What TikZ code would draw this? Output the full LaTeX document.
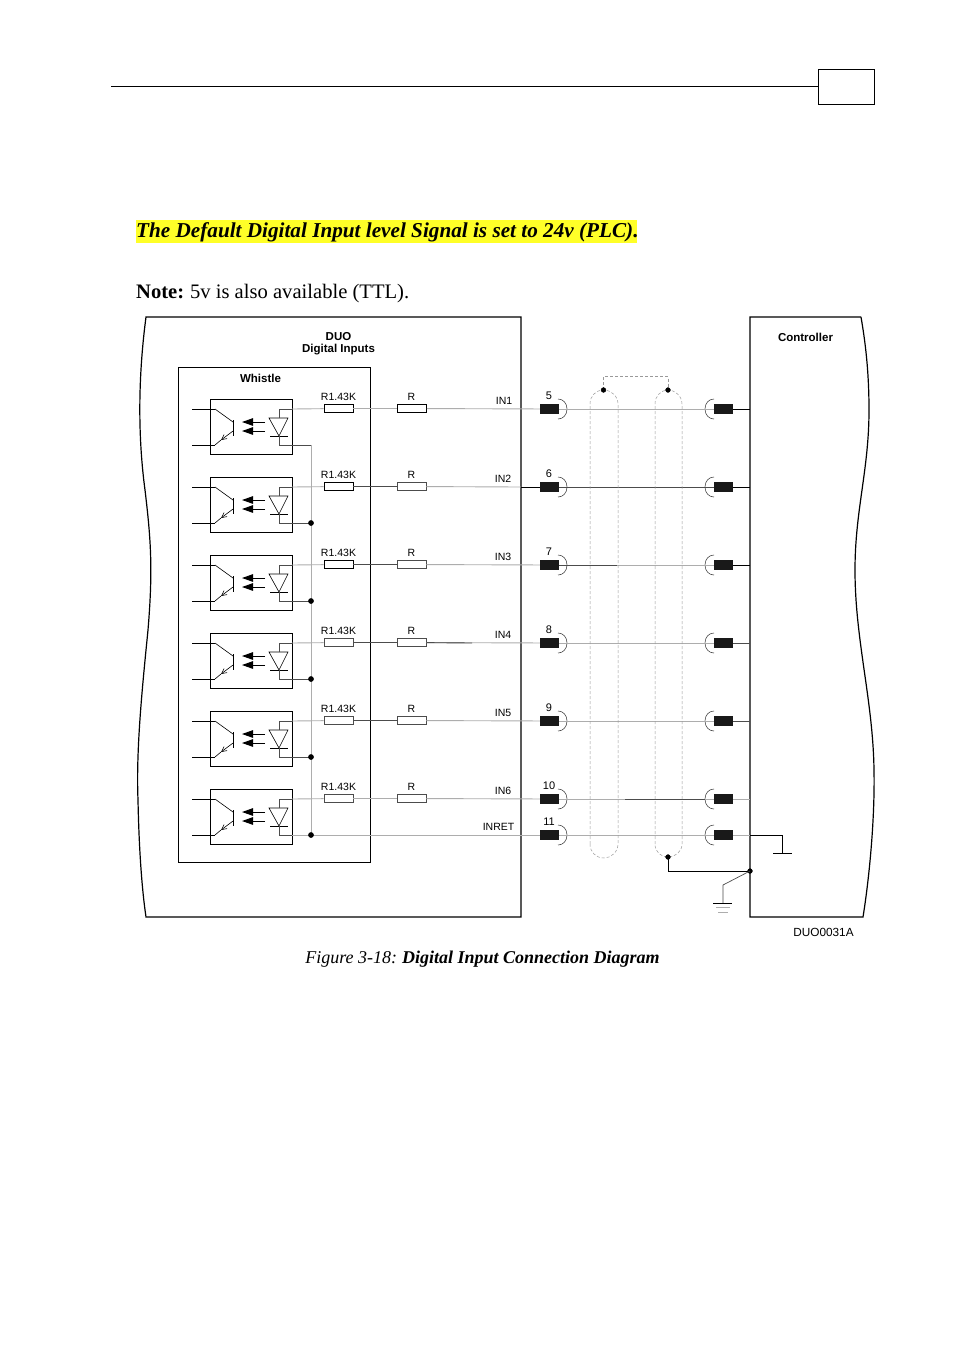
\documentclass[tikz,border=0pt]{standalone}
\usepackage{fontspec}
\setmainfont{Liberation Serif}
\setsansfont{Liberation Sans}
\usetikzlibrary{arrows.meta}
\definecolor{wiregray}{gray}{0.68}
\definecolor{wiredark}{gray}{0.3}
\definecolor{shieldgray}{gray}{0.6}
\definecolor{markyellow}{RGB}{255,255,40}
\tikzset{
  tag/.style={font=\sffamily\fontsize{10.5}{12}\selectfont,inner sep=0pt},
  numtag/.style={font=\sffamily\fontsize{11}{12}\selectfont,inner sep=0pt},
  headtag/.style={font=\sffamily\bfseries\fontsize{11.5}{13}\selectfont,inner sep=0pt},
  resdark/.style={draw=black,line width=0.9pt,fill=white,minimum width=29pt,minimum height=8pt,inner sep=0pt},
  reslight/.style={draw=wiredark,line width=0.7pt,fill=white,minimum width=29pt,minimum height=8pt,inner sep=0pt},
  pinbox/.style={fill=black!90,minimum width=19pt,minimum height=10pt,inner sep=0pt},
  wire/.style={line width=0.9pt,wiregray},
  darkwire/.style={line width=0.9pt,wiredark},
  blackwire/.style={line width=0.9pt,black},
  shield/.style={line width=0.5pt,shieldgray,dash pattern=on 3pt off 2pt},
  opto/.pic={
    \draw [line width=0.9pt] (0,-10) rectangle (82,45);
    \draw [line width=0.9pt] (-18,0)-- (5,0);
    \draw [line width=0.9pt] (-18,36)-- (5,36);
    \draw [line width=0.6pt] (5,0)-- (23,13);
    \draw [line width=0.6pt] (23,11)-- (23,27);
    \draw [line width=0.6pt,-{Straight Barb[length=5pt,width=5pt]}] (23,22)-- (11,31);
    \draw [line width=0.6pt] (11,31)-- (5,36);
    \draw [line width=1pt,-{Stealth[length=11pt,width=7.5pt,inset=0pt]}] (55,13)-- (32,13);
    \draw [line width=1pt,-{Stealth[length=11pt,width=7.5pt,inset=0pt]}] (55,22)-- (32,22);
    \draw [line width=0.6pt] (59,9)-- (78,9)-- (69,27)-- cycle;
    \draw [line width=0.7pt] (60,27)-- (78,27);
    \draw [line width=0.8pt,wiredark] (69,9)-- (69,0)-- (82,0);
    \draw [line width=0.8pt,wiredark] (69,27)-- (69,36)-- (82,36);
    \coordinate (-top) at (82,0);
    \coordinate (-bot) at (82,36);
  },
  jackleft/.pic={
    \draw [line width=0.6pt,wiredark] (-1,-10) .. controls (4,-10) and (8,-6) .. (8,0) .. controls (8,6) and (4,10) .. (-1,10);
  },
  jackright/.pic={
    \draw [line width=0.6pt,wiredark] (1,-10) .. controls (-4,-10) and (-8,-6) .. (-8,0) .. controls (-8,6) and (-4,10) .. (1,10);
  }
}
\begin{document}
\begin{tikzpicture}[x=1pt,y=-1pt]
\useasboundingbox (0,0) rectangle (954,1350);
\fill [white] (0,0) rectangle (954,1350);
% page head
\draw [line width=0.9pt] (111,86)-- (818,86);
\draw [line width=0.9pt] (818,69) rectangle (874.5,104.5);
\fill [markyellow] (136,220) rectangle (637,243);
\node [anchor=west,inner sep=0pt,font=\fontsize{21.2}{24}\selectfont\bfseries\itshape] (signal) at (136,232) {The Default Digital Input level Signal is set to 24v (PLC).};
\node [anchor=west,inner sep=0pt,font=\fontsize{20.6}{24}\selectfont] (note) at (136,293.5) {\textbf{Note:}\hspace{-1pt} 5v is also available (TTL).};
\node [inner sep=0pt,font=\fontsize{18}{20}\selectfont] (caption) at (482.5,959) {\textit{Figure 3-18:}\hspace{-1pt} \textbf{\textit{Digital Input Connection Diagram}}};
% outlines
\draw [line width=1.2pt] (521,317)-- (146,317) .. controls (139,370) and (137,430) .. (145,490) .. controls (151,540) and (153,570) .. (148,630) .. controls (142,690) and (136,750) .. (138,800) .. controls (139,850) and (142,890) .. (146,917)-- (521,917)-- cycle;
\draw [line width=1.2pt] (861,317)-- (750,317)-- (750,917)-- (863,917) .. controls (869,880) and (875,820) .. (874,770) .. controls (873,700) and (855,640) .. (855,570) .. controls (855,510) and (869,470) .. (869,410) .. controls (869,370) and (865,340) .. (861,317);
\draw [line width=0.9pt] (178,367) rectangle (370,862);
\node [headtag] (duo) at (338.5,336.5) {DUO};
\node [headtag] (duoin) at (338.5,349.5) {Digital Inputs};
\node [headtag] (whistle) at (260.5,378) {Whistle};
\node [headtag] (ctrl) at (805.5,337) {Controller};
\node [tag,font=\sffamily\fontsize{11.8}{13}\selectfont] (drawno) at (823.5,932) {DUO0031A};
% optos
\pic (o1) at (210,409) {opto};
\pic (o2) at (210,487) {opto};
\pic (o3) at (210,565) {opto};
\pic (o4) at (210,643) {opto};
\pic (o5) at (210,721) {opto};
\pic (o6) at (210,799) {opto};
% resistors
\node [resdark] (ra1) at (338.5,408.5) {};
\node [resdark] (ra2) at (338.5,486.5) {};
\node [resdark] (ra3) at (338.5,564.5) {};
\node [reslight] (ra4) at (338.5,642.5) {};
\node [reslight] (ra5) at (338.5,720.5) {};
\node [reslight] (ra6) at (338.5,798.5) {};
\node [resdark] (rb1) at (412,408.5) {};
\node [reslight] (rb2) at (411.5,486.5) {};
\node [reslight] (rb3) at (411.5,564.5) {};
\node [reslight] (rb4) at (411.5,642.5) {};
\node [reslight] (rb5) at (411.5,720.5) {};
\node [reslight] (rb6) at (411.5,798.5) {};
\node [tag] (tra1) at (338.5,396.5) {R1.43K};
\node [tag] (tra2) at (338.5,474.5) {R1.43K};
\node [tag] (tra3) at (338.5,552.5) {R1.43K};
\node [tag] (tra4) at (338.5,630.5) {R1.43K};
\node [tag] (tra5) at (338.5,708.5) {R1.43K};
\node [tag] (tra6) at (338.5,786.5) {R1.43K};
\node [tag] (trb1) at (411.5,396.5) {R};
\node [tag] (trb2) at (411.5,474.5) {R};
\node [tag] (trb3) at (411.5,552.5) {R};
\node [tag] (trb4) at (411.5,630.5) {R};
\node [tag] (trb5) at (411.5,708.5) {R};
\node [tag] (trb6) at (411.5,786.5) {R};
\node [tag] (in1) at (504,401) {IN1};
\node [tag] (in2) at (503,479) {IN2};
\node [tag] (in3) at (503,557) {IN3};
\node [tag] (in4) at (503,635) {IN4};
\node [tag] (in5) at (503,713) {IN5};
\node [tag] (in6) at (503,791) {IN6};
\node [tag] (inret) at (498.5,827) {INRET};
% pins, cable side
\node [pinbox] (pa1) at (549.5,409) {};
\node [pinbox] (pa2) at (549.5,487) {};
\node [pinbox] (pa3) at (549.5,565) {};
\node [pinbox] (pa4) at (549.5,643) {};
\node [pinbox] (pa5) at (549.5,721) {};
\node [pinbox] (pa6) at (549.5,799) {};
\node [pinbox] (pa7) at (549.5,835) {};
\node [pinbox] (pb1) at (723.5,409) {};
\node [pinbox] (pb2) at (723.5,487) {};
\node [pinbox] (pb3) at (723.5,565) {};
\node [pinbox] (pb4) at (723.5,643) {};
\node [pinbox] (pb5) at (723.5,721) {};
\node [pinbox] (pb6) at (723.5,799) {};
\node [pinbox] (pb7) at (723.5,835) {};
\pic at (559,409) {jackleft};
\pic at (559,487) {jackleft};
\pic at (559,565) {jackleft};
\pic at (559,643) {jackleft};
\pic at (559,721) {jackleft};
\pic at (559,799) {jackleft};
\pic at (559,835) {jackleft};
\pic at (713,409) {jackright};
\pic at (713,487) {jackright};
\pic at (713,565) {jackright};
\pic at (713,643) {jackright};
\pic at (713,721) {jackright};
\pic at (713,799) {jackright};
\pic at (713,835) {jackright};
\node [numtag] (n5) at (549,396) {5};
\node [numtag] (n6) at (549,474) {6};
\node [numtag] (n7) at (549,552) {7};
\node [numtag] (n8) at (549,630) {8};
\node [numtag] (n9) at (549,708) {9};
\node [numtag] (n10) at (549,786) {10};
\node [numtag] (n11) at (549,822) {11};
% wires
\coordinate (w1) at (750,409);
\coordinate (w2) at (750,487);
\coordinate (w3) at (750,565);
\coordinate (w4) at (750,643);
\coordinate (w5) at (750,721);
\coordinate (w6) at (750,799);
\coordinate (w7) at (750,835);
\coordinate (c1) at (521,409);
\coordinate (c2) at (521,487);
\coordinate (c3) at (521,565);
\coordinate (c4) at (521,643);
\coordinate (c5) at (521,721);
\coordinate (c6) at (521,799);
\draw [wire] (o1-top)-- (ra1);
\draw [wire] (o2-top)-- (ra2);
\draw [wire] (o3-top)-- (ra3);
\draw [wire] (o4-top)-- (ra4);
\draw [wire] (o5-top)-- (ra5);
\draw [wire] (o6-top)-- (ra6);
\draw [wire] (ra1)-- (rb1);
\draw [darkwire] (ra2)-- (rb2);
\draw [darkwire] (ra3)-- (rb3);
\draw [darkwire] (ra4)-- (rb4);
\draw [darkwire] (ra5)-- (rb5);
\draw [wire] (ra6)-- (rb6);
\draw [wire] (rb1)-- (pa1);
\draw [wire] (rb2)-- (c2);
\draw [blackwire] (c2)-- (pa2);
\draw [wire] (rb3)-- (pa3);
\draw [wire] (rb4)-- (pa4);
\draw [darkwire] (rb4)-- (472,643);
\draw [wire] (rb5)-- (pa5);
\draw [wire] (rb6)-- (pa6);
\draw [wire] (pa1)-- (pb1);
\draw [darkwire] (pa2)-- (pb2);
\draw [wire] (pa3)-- (pb3);
\draw [darkwire] (pa3)-- (617,565);
\draw [wire] (pa4)-- (pb4);
\draw [wire] (pa5)-- (pb5);
\draw [wire] (pa6)-- (pb6);
\draw [darkwire] (625,799)-- (705,799);
\draw [wire] (pa7)-- (pb7);
\draw [blackwire] (pb1)-- (w1);
\draw [blackwire] (pb2)-- (w2);
\draw [blackwire] (pb3)-- (w3);
\draw [darkwire] (pb4)-- (w4);
\draw [darkwire] (pb5)-- (w5);
\draw [wire] (pb6)-- (w6);
\draw [wire] (pb7)-- (w7);
% return bus
\coordinate (j2) at (311,523);
\coordinate (j3) at (311,601);
\coordinate (j4) at (311,679);
\coordinate (j5) at (311,757);
\coordinate (j6) at (311,835);
\draw [line width=0.9pt,wiredark] (o1-bot)-- (311,445);
\draw [wire] (311,445)-- (j6);
\draw [line width=0.9pt,wiredark] (o2-bot)-- (j2);
\draw [line width=0.9pt,wiredark] (o3-bot)-- (j3);
\draw [line width=0.9pt,wiredark] (o4-bot)-- (j4);
\draw [line width=0.9pt,wiredark] (o5-bot)-- (j5);
\draw [wire] (o6-bot)-- (j6);
\draw [wire] (j6)-- (pa7);
\draw [fill=black] (j2) circle (2.6pt);
\draw [fill=black] (j3) circle (2.6pt);
\draw [fill=black] (j4) circle (2.6pt);
\draw [fill=black] (j5) circle (2.6pt);
\draw [fill=black] (j6) circle (2.6pt);
% shield
\coordinate (sa) at (603.5,390);
\coordinate (sb) at (668,390);
\coordinate (sc) at (668,857);
\coordinate (se) at (750,871);
\draw [shield] (590,844) -- (590,404) .. controls (590,396) and (596,390) .. (sa) .. controls (611,390) and (618,396) .. (618,404)-- (618,844) .. controls (618,852) and (611,858) .. (604,858) .. controls (596,858) and (590,852) .. (590,844);
\draw [shield] (655,844) -- (655,404) .. controls (655,396) and (661,390) .. (sb) .. controls (675,390) and (682,396) .. (682,404)-- (682,844) .. controls (682,852) and (675,857) .. (sc) .. controls (661,857) and (655,852) .. (655,844);
\draw [shield] (sa)-- (603.5,376.5)-- (668,376.5)-- (sb);
\draw [fill=black] (sa) circle (2.4pt);
\draw [fill=black] (sb) circle (2.4pt);
\draw [fill=black] (sc) circle (2.4pt);
\draw [line width=0.9pt] (sc)-- (668,871)-- (se);
\draw [fill=black] (se) circle (2.4pt);
% grounds
\draw [line width=0.7pt,wiredark] (se)-- (723,885)-- (723,903);
\draw [line width=0.8pt] (713,903)-- (732,903);
\draw [line width=0.8pt,wiregray] (716,907.5)-- (730,907.5);
\draw [line width=0.8pt,wiregray] (718,912)-- (728,912);
\draw [line width=0.9pt] (w7)-- (782,835)-- (782,853);
\draw [line width=0.9pt] (773,853)-- (792,853);
\end{tikzpicture}
\end{document}
